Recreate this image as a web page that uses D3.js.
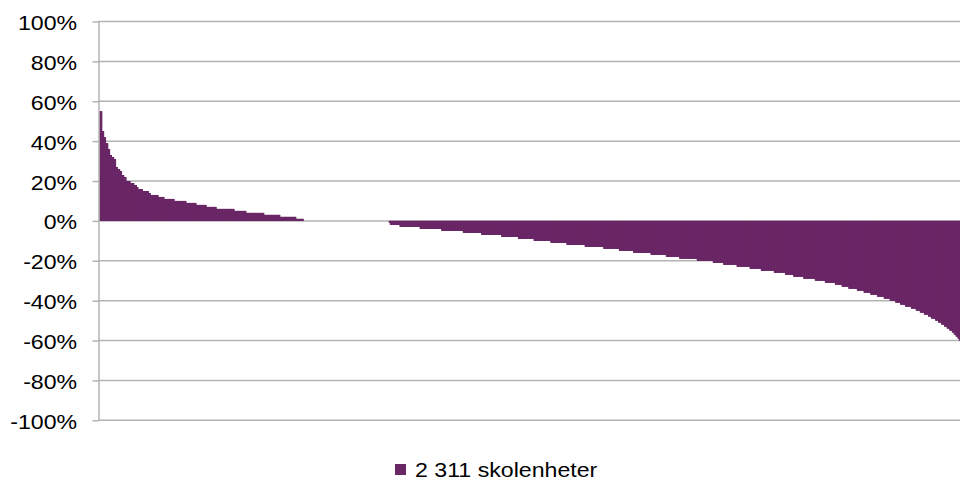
<!DOCTYPE html>
<html><head><meta charset="utf-8">
<script src="https://cdn.jsdelivr.net/npm/d3@7"></script>
<style>
body{margin:0;background:#fff}
svg{display:block}
text{font-family:"Liberation Sans",Arial,sans-serif;fill:#000}
</style>
</head><body>
<svg id="c" width="960" height="482"></svg>
<script>
const runValues = [55,45,42,39,36,33,32,31,27,26,25,23,22,20,19,18,17,16,15,14,13,12,11,10,9,8,7,6,5,4,3,2,1,
  0,
  -1,-2,-3,-4,-5,-6,-7,-8,-9,-10,-11,-12,-13,-14,-15,-16,-17,-18,-19,-20,-21,-22,-23,-24,-25,-26,-27,-28,-29,-30,
  -31,-32,-33,-34,-35,-36,-37,-38,-39,-40,-41,-42,-43,-44,-45,-46,-47,-48,-49,-50,-51,-52,-53,-54,-55,-56,-57,-58,-59,-60];
const runCounts = [6,5,5,6,5,5,6,5,5,6,5,6,6,11,10,7,4,12,16,5,21,16,27,32,27,27,27,48,32,48,43,43,20,
  230,
  3,26,54,58,58,49,54,45,42,45,43,49,50,42,38,47,41,36,47,43,28,36,35,30,35,30,22,27,31,27,
  27,18,18,23,18,18,18,18,16,15,13,13,16,13,11,11,11,8,11,8,8,8,7,7,7,5,5,5,4,3];
const yTicks = [100,80,60,40,20,0,-20,-40,-60,-80,-100];
const seriesName = "2 311 skolenheter";

const values = runValues.flatMap((v,i)=>Array(runCounts[i]).fill(v));

const purple = "#6A2766", grid = "#B3B3B3";
const fs = 20.5, sx = 1.13;
const svg = d3.select("#c");
svg.append("rect").attr("width",960).attr("height",482).attr("fill","#fff");

const x = d3.scaleBand().domain(d3.range(values.length)).range([99.3, 960]).padding(0);
const y = d3.scaleLinear().domain([-100,100]).range([420.3, 21.5]);

// gridlines
svg.append("g").selectAll("line").data(yTicks).join("line")
  .attr("x1",98).attr("x2",960)
  .attr("y1",d=>y(d)).attr("y2",d=>y(d))
  .attr("stroke",grid).attr("stroke-width",1.5);

// bars
svg.append("g").selectAll("rect").data(values.map((v,i)=>({v,i})).filter(d=>d.v!==0)).join("rect")
  .attr("x",d=>x(d.i))
  .attr("width",x.bandwidth()+0.8)
  .attr("y",d=>Math.min(y(d.v),y(0)))
  .attr("height",d=>Math.abs(y(d.v)-y(0)))
  .attr("fill",purple);

// y axis
const ax = svg.append("g").attr("transform","translate(98.5,0)")
  .call(d3.axisLeft(y).tickValues(yTicks).tickFormat(d=>d+"%").tickSize(6).tickSizeOuter(0));
ax.select(".domain").attr("stroke",grid).attr("stroke-width",1.5);
ax.selectAll(".tick line").attr("stroke",grid).attr("stroke-width",1.5);
ax.selectAll(".tick text")
  .attr("x",null).attr("dy",null)
  .attr("transform",`translate(-21.3,8) scale(${sx},1)`)
  .attr("text-anchor","end")
  .style("font-size",fs+"px")
  .style("font-family","'Liberation Sans',Arial,sans-serif")
  .attr("fill","#000");

// legend
const lg = svg.append("g");
lg.append("rect").attr("x",395).attr("y",464).attr("width",11).attr("height",11).attr("fill",purple);
lg.append("text").attr("transform",`translate(415,477) scale(${sx},1)`)
  .style("font-size",fs+"px").text(seriesName);
</script>
</body></html>
